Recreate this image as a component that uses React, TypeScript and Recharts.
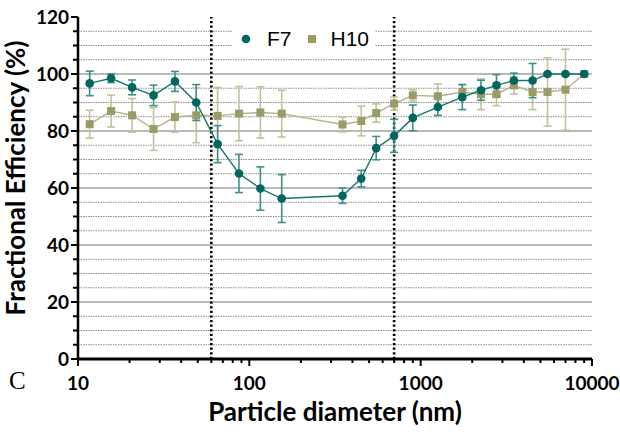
import React from 'react';
import { LineChart, Line, XAxis, YAxis, ErrorBar, ReferenceLine, Legend } from 'recharts';

const diameters = [11.7, 15.6, 20.7, 27.6, 36.8, 49, 65.3, 87, 116, 154.5, 350, 450, 550, 700, 900, 1260, 1750, 2250, 2770, 3500, 4500, 5500, 7000, 9000];
const f7 = [96.7, 98.5, 95.3, 92.5, 97.4, 90.0, 75.4, 65.1, 59.8, 56.3, 57.3, 63.3, 74.0, 78.3, 84.6, 88.4, 91.9, 94.3, 96.0, 97.7, 97.7, 100, 100, 100];
const f7Err = [4.3, 1.5, 2.6, 3.6, 3.5, 6.3, 6.5, 6.7, 7.6, 8.4, 2.7, 2.9, 4.1, 5.8, 4.5, 2.9, 4.4, 3.5, 3.8, 2.6, 6.0, 0.5, 0.5, 0.5];
const h10 = [82.4, 87.0, 85.5, 80.7, 84.9, 85.5, 85.3, 86.1, 86.5, 86.1, 82.3, 83.5, 86.3, 89.6, 92.5, 92.2, 93.7, 92.9, 92.9, 96.0, 93.7, 93.7, 94.5, 100];
const h10Err = [4.9, 5.6, 5.9, 7.5, 5.3, 9.6, 10, 9.5, 9.0, 8.2, 2.6, 5.2, 3.2, 2.3, 2.0, 4.3, 2.5, 5.4, 4.0, 3.0, 6.2, 12, 14.2, 0];

const xTicks = [10, 20, 30, 40, 50, 60, 70, 80, 90, 100, 200, 300, 400, 500, 600, 700, 800, 900, 1000, 2000, 3000, 4000, 5000, 6000, 7000, 8000, 9000, 10000];
const xLabels = [10, 100, 1000, 10000];
const yTicks = [0, 5, 10, 15, 20, 25, 30, 35, 40, 45, 50, 55, 60, 65, 70, 75, 80, 85, 90, 95, 100, 105, 110, 115, 120];
const yLabels = [0, 20, 40, 60, 80, 100, 120];
const gridSolid = [20, 40, 60, 80, 100];
const gridDotted = [5, 10, 15, 25, 30, 35, 45, 50, 55, 65, 70, 75, 85, 90, 95, 105, 110, 115];
const cutoffs = [60, 700];
const seriesNames = ['F7', 'H10'];

const data = diameters.map((d, i) => ({ d, f7: f7[i], f7Err: f7Err[i], h10: h10[i], h10Err: h10Err[i] }));

const TEAL = '#00665e';
const TEAL_LINE = '#16756e';
const TEAL_ERR = '#3f8f89';
const OLIVE = '#9c9a66';
const OLIVE_LINE = '#b4b28a';
const OLIVE_ERR = '#c3c19c';
const TICK_FONT = 'Lato, "Open Sans", sans-serif';

const XTick = (props: any) => {
  const { x, y, payload } = props;
  const major = xLabels.includes(payload.value);
  return (
    <g>
      <line x1={x} y1={y} x2={x} y2={y + (major ? 7 : 4)} stroke="#000" strokeWidth={2} />
      {major && (
        <text x={x} y={y + 31} textAnchor="middle" fontFamily={TICK_FONT} fontWeight={700} fontSize={19} fill="#000">
          {payload.value}
        </text>
      )}
    </g>
  );
};

const YTick = (props: any) => {
  const { x, y, payload } = props;
  const major = yLabels.includes(payload.value);
  return (
    <g>
      <line x1={x - (major ? 7 : 5)} y1={y} x2={x} y2={y} stroke="#000" strokeWidth={2} />
      {major && (
        <text x={x - 9} y={y + 7} textAnchor="end" fontFamily={TICK_FONT} fontWeight={700} fontSize={19} fill="#000">
          {payload.value}
        </text>
      )}
    </g>
  );
};

const SquareDot = (props: any) => {
  const { cx, cy, index } = props;
  if (cx == null || cy == null) return <g key={`sq-${index}`} />;
  return <rect key={`sq-${index}`} x={cx - 4} y={cy - 4} width={8} height={8} fill={OLIVE} />;
};

const LegendContent = () => (
  <div style={{ display: 'flex', alignItems: 'center', background: '#fff', height: 30, width: 142, fontFamily: '"Liberation Sans", Arial, sans-serif', fontSize: 21, color: '#000' }}>
    <svg width={20} height={30} style={{ marginLeft: 8 }}>
      <circle cx={5} cy={15} r={4.3} fill={TEAL} />
    </svg>
    <span style={{ marginLeft: 6 }}>{seriesNames[0]}</span>
    <svg width={20} height={30} style={{ marginLeft: 16 }}>
      <rect x={0} y={11} width={8} height={8} fill={OLIVE} />
    </svg>
    <span style={{ marginLeft: 3 }}>{seriesNames[1]}</span>
  </div>
);

export default function App() {
  return (
    <div style={{ position: 'absolute', left: 0, top: 0, width: 620, height: 434, background: '#fff' }}>
      <LineChart width={620} height={434} data={data} margin={{ top: 17, right: 28, bottom: 0, left: 0 }}>
        {gridDotted.map((v) => (
          <ReferenceLine key={`gd-${v}`} y={v} stroke="#8c8c8c" strokeWidth={1.2} strokeDasharray="1.5 1" ifOverflow="visible" />
        ))}
        {gridSolid.map((v) => (
          <ReferenceLine key={`gs-${v}`} y={v} stroke="#b9b9b9" strokeWidth={2} ifOverflow="visible" />
        ))}
        {cutoffs.map((v) => (
          <ReferenceLine key={`c-${v}`} x={v} stroke="#000" strokeWidth={2.6} strokeDasharray="2.2 2.4" ifOverflow="visible" />
        ))}
        <XAxis
          dataKey="d"
          type="number"
          scale="log"
          domain={[10, 10000]}
          ticks={xTicks}
          interval={0}
          allowDataOverflow
          height={75}
          tickSize={0}
          tickMargin={0}
          tickLine={false}
          tick={<XTick />}
          axisLine={{ stroke: '#000', strokeWidth: 3 }}
          label={{
            content: () => (
              <text x={335} y={421} textAnchor="middle" fontFamily={TICK_FONT} fontWeight={700} fontSize={26} fill="#000">
                Particle diameter (nm)
              </text>
            ),
          }}
        />
        <YAxis
          type="number"
          domain={[0, 120]}
          ticks={yTicks}
          interval={0}
          width={78}
          tickSize={0}
          tickMargin={0}
          tickLine={false}
          tick={<YTick />}
          axisLine={{ stroke: '#000', strokeWidth: 2.5 }}
          label={{
            content: () => (
              <g>
                <text x={25} y={178} transform="rotate(-90 25 178)" textAnchor="middle" fontFamily={TICK_FONT} fontWeight={700} fontSize={26} fill="#000">
                  Fractional Efficiency (%)
                </text>
                <text x={9} y={389} fontFamily='"Liberation Serif", "DejaVu Serif", serif' fontSize={25} fill="#000">
                  C
                </text>
              </g>
            ),
          }}
        />
        <Legend
          layout="vertical"
          align="center"
          verticalAlign="middle"
          content={<LegendContent />}
          wrapperStyle={{ left: 233, top: 24, width: 142, height: 30 }}
        />
        <Line
          dataKey="h10"
          name="H10"
          stroke={OLIVE_LINE}
          strokeWidth={1.4}
          dot={SquareDot}
          activeDot={false}
          isAnimationActive={false}
        >
          <ErrorBar dataKey="h10Err" width={4} stroke={OLIVE_ERR} strokeWidth={1.6} direction="y" />
        </Line>
        <Line
          dataKey="f7"
          name="F7"
          stroke={TEAL_LINE}
          strokeWidth={1.4}
          dot={{ r: 4.3, fill: TEAL, stroke: TEAL, strokeWidth: 0 }}
          activeDot={false}
          isAnimationActive={false}
        >
          <ErrorBar dataKey="f7Err" width={4} stroke={TEAL_ERR} strokeWidth={1.6} direction="y" />
        </Line>
      </LineChart>
    </div>
  );
}
